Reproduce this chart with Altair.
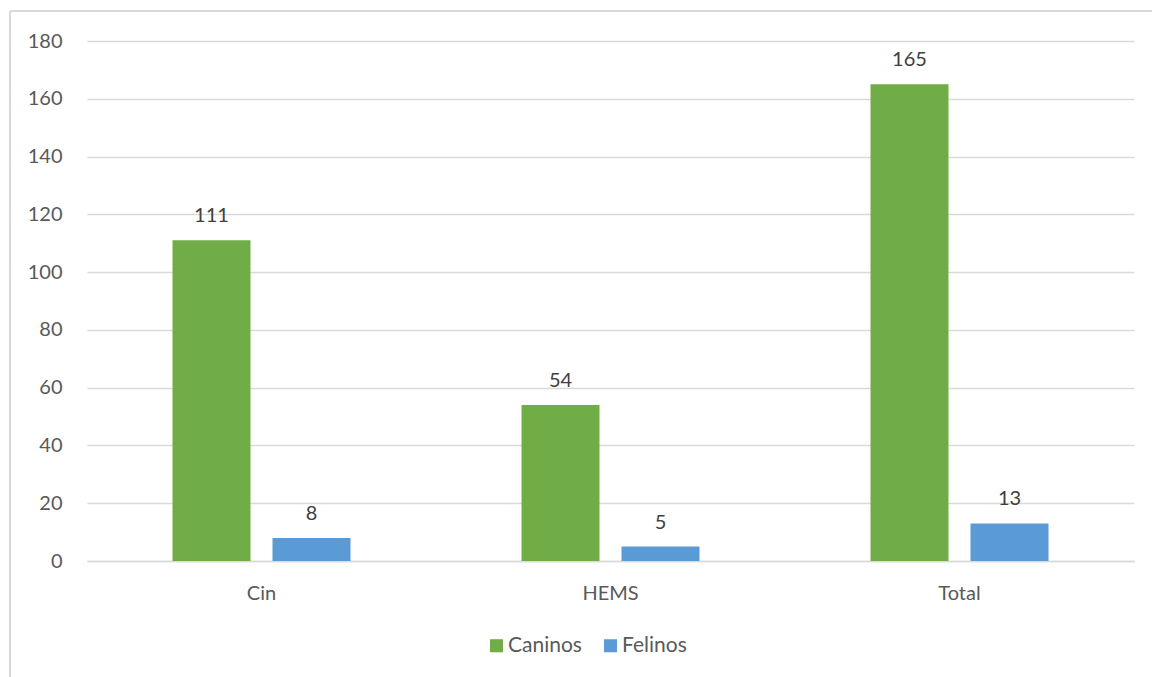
import altair as alt
import pandas as pd

# Número de casos por sede y especie
sedes = ["Cin", "HEMS", "Total"]
especies = ["Caninos", "Felinos"]
caninos = [111, 54, 165]
felinos = [8, 5, 13]

colores = ["#70AD47", "#5B9BD5"]
FONT = "Lato"

rows = []
for s, c, f in zip(sedes, caninos, felinos):
    rows.append({"sede": s, "especie": "Caninos", "n": c})
    rows.append({"sede": s, "especie": "Felinos", "n": f})
df = pd.DataFrame(rows)

W, H = 1047, 520

x = alt.X("sede:N", sort=sedes, title=None,
          scale=alt.Scale(paddingInner=0, paddingOuter=0),
          axis=alt.Axis(labelAngle=0, labelFontSize=20, labelColor="#595959",
                        labelFont=FONT, labelPadding=22, ticks=False,
                        domainColor="#d9d9d9", domainWidth=1.5, grid=False))
xoff = alt.XOffset("especie:N", sort=especies,
                   scale=alt.Scale(paddingInner=0.22, paddingOuter=0.855))
y = alt.Y("n:Q", title=None,
          scale=alt.Scale(domain=[0, 180], nice=False),
          axis=alt.Axis(values=list(range(0, 181, 20)), labelFontSize=20,
                        labelColor="#595959", labelFont=FONT, labelPadding=25,
                        ticks=False, domain=False, gridColor="#d9d9d9",
                        gridWidth=1.5))

bars = alt.Chart(df).mark_bar().encode(
    x=x, xOffset=xoff, y=y,
    color=alt.Color("especie:N", sort=especies,
                    scale=alt.Scale(domain=especies, range=colores),
                    legend=alt.Legend(title=None, orient="none", direction="horizontal",
                                      legendX=399, legendY=594, symbolType="square",
                                      symbolSize=170, symbolStrokeWidth=0,
                                      labelFontSize=21, labelColor="#595959",
                                      labelFont=FONT, columnPadding=18,
                                      symbolOffset=0, labelOffset=1)),
)

labels = alt.Chart(df).mark_text(baseline="alphabetic", dy=-18, fontSize=20,
                                 color="#404040", font=FONT).encode(
    x=alt.X("sede:N", sort=sedes), xOffset=alt.XOffset("especie:N", sort=especies),
    y="n:Q", text="n:Q",
)

# Marco exterior del gráfico
frame_v = alt.Chart(df).mark_rule(color="#d9d9d9", strokeWidth=1.5).encode(
    x=alt.value(-77), y=alt.value(-30), y2=alt.value(H + 200))
frame_h = alt.Chart(df).mark_rule(color="#d9d9d9", strokeWidth=1.5).encode(
    x=alt.value(-77), x2=alt.value(W + 200), y=alt.value(-30))

chart = alt.layer(bars, labels, frame_v, frame_h).properties(
    width=W, height=H,
    autosize=alt.AutoSizeParams(type="none"),
    padding={"left": 87, "top": 41, "right": 18, "bottom": 116},
    background="white",
).configure_view(stroke=None)

chart.save("out.html", embed_options={"renderer": "svg", "actions": False})
